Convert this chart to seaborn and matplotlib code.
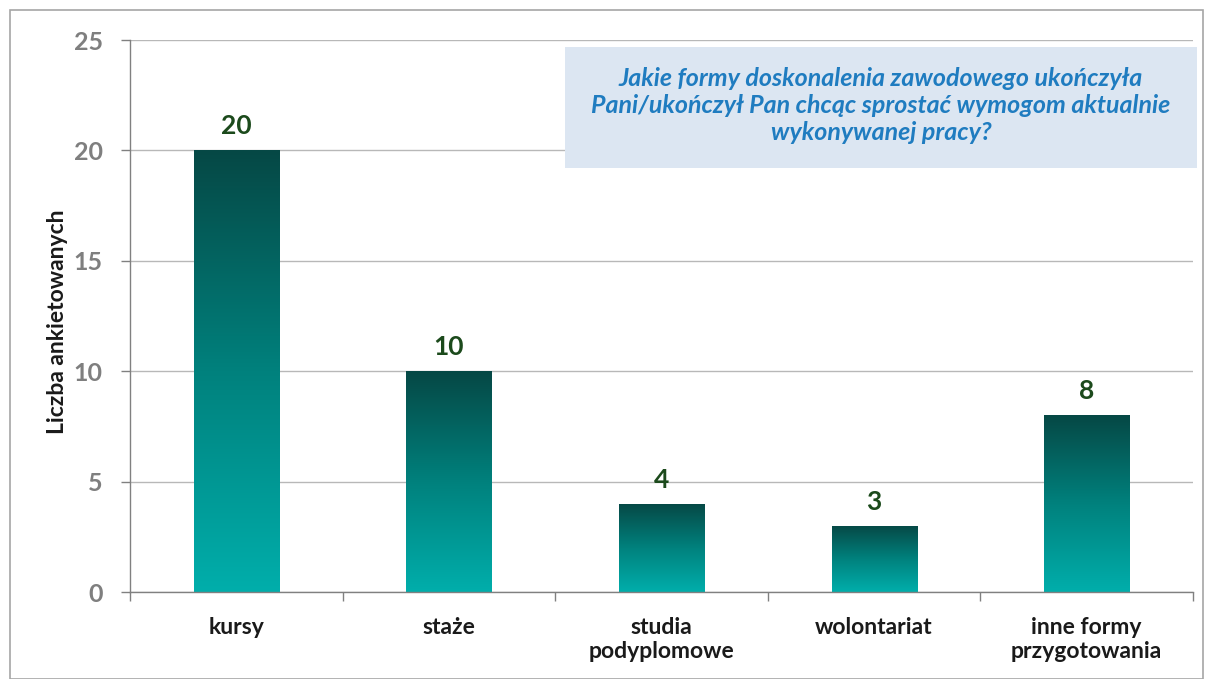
import numpy as np
import pandas as pd
import matplotlib
matplotlib.use("Agg")
import matplotlib.pyplot as plt
import seaborn as sns
from matplotlib.colors import LinearSegmentedColormap
from matplotlib.patches import Rectangle

categories = ["kursy", "staże", "studia\npodyplomowe", "wolontariat", "inne formy\nprzygotowania"]
values = [20, 10, 4, 3, 8]
y_ticks = [0, 5, 10, 15, 20, 25]
y_label = "Liczba ankietowanych"
title = ("Jakie formy doskonalenia zawodowego ukończyła\n"
         "Pani/ukończył Pan chcąc sprostać wymogom aktualnie\n"
         "wykonywanej pracy?")

sns.set_style("white")
plt.rcParams['font.family'] = ['Lato', 'DejaVu Sans']

df = pd.DataFrame({"cat": categories, "val": values})

fig = plt.figure(figsize=(12.05, 6.79), dpi=100)
ax = fig.add_axes([130/1205, 1 - 592/679, (1193-130)/1205, (592-40)/679])

sns.barplot(data=df, x="cat", y="val", ax=ax, width=0.4, color="#00aaa8",
            edgecolor="none", saturation=1)

cmap = LinearSegmentedColormap.from_list("tg", ["#00aeab", "#00817d", "#064845"])
grad = np.linspace(0, 1, 256).reshape(-1, 1)
for p in list(ax.patches):
    x0, y0 = p.get_x(), p.get_y()
    w, h = p.get_width(), p.get_height()
    im = ax.imshow(grad, cmap=cmap, aspect="auto", origin="lower",
                   extent=[x0, x0 + w, y0, y0 + h], zorder=2)
    im.set_clip_path(p)
    ax.text(x0 + w / 2, h + 0.55, f"{int(h)}", ha="center", va="bottom",
            fontsize=19, fontweight="bold", color="#1c4a1c")

ax.set_xlim(-0.5, len(categories) - 0.5)
ax.set_ylim(0, 25)
ax.set_yticks(y_ticks)
ax.set_yticklabels([str(t) for t in y_ticks], fontsize=18, fontweight="bold", color="#7f7f7f")
ax.yaxis.grid(True, color="#b8b8b8", linewidth=1)
ax.set_axisbelow(True)
ax.tick_params(axis="y", length=6.5, color="#808080", width=1, pad=13, left=True)
ax.tick_params(axis="x", length=0, pad=18)
for lbl in ax.get_xticklabels():
    lbl.set_fontsize(16.5)
    lbl.set_fontweight("bold")
    lbl.set_color("#1a1a1a")
    lbl.set_linespacing(1.15)
ax.set_xticks(np.arange(-0.5, len(categories), 1), minor=True)
ax.tick_params(axis="x", which="minor", length=6.5, color="#808080", width=1, bottom=True)

for s in ["top", "right"]:
    ax.spines[s].set_visible(False)
for s in ["left", "bottom"]:
    ax.spines[s].set_color("#808080")
    ax.spines[s].set_linewidth(1)

ax.set_xlabel("")
ax.set_ylabel(y_label, fontsize=16.5, fontweight="bold", color="#1a1a1a")
ax.yaxis.set_label_coords((57 - 130) / 1063, 0.49)
ax.yaxis.label.set_va("center")

fig.patches.append(Rectangle((10/1205, 0), 1 - 10/1205 - 2/1205, 1 - 10/679,
                             transform=fig.transFigure, fill=False,
                             edgecolor="#a6a6a6", linewidth=1.2))

bx0, by0, bx1, by1 = 565, 47, 1197, 168
fig.patches.append(Rectangle((bx0/1205, 1 - by1/679), (bx1-bx0)/1205, (by1-by0)/679,
                             transform=fig.transFigure, facecolor="#dce6f2",
                             edgecolor="none", zorder=5))
fig.text((bx0+bx1)/2/1205, 1 - (by0+by1)/2/679 + 2/679, title, ha="center", va="center",
         fontsize=18, fontweight="bold", fontstyle="italic", color="#1f7cc0",
         linespacing=1.2, zorder=6)

fig.savefig("out.png", dpi=100)
